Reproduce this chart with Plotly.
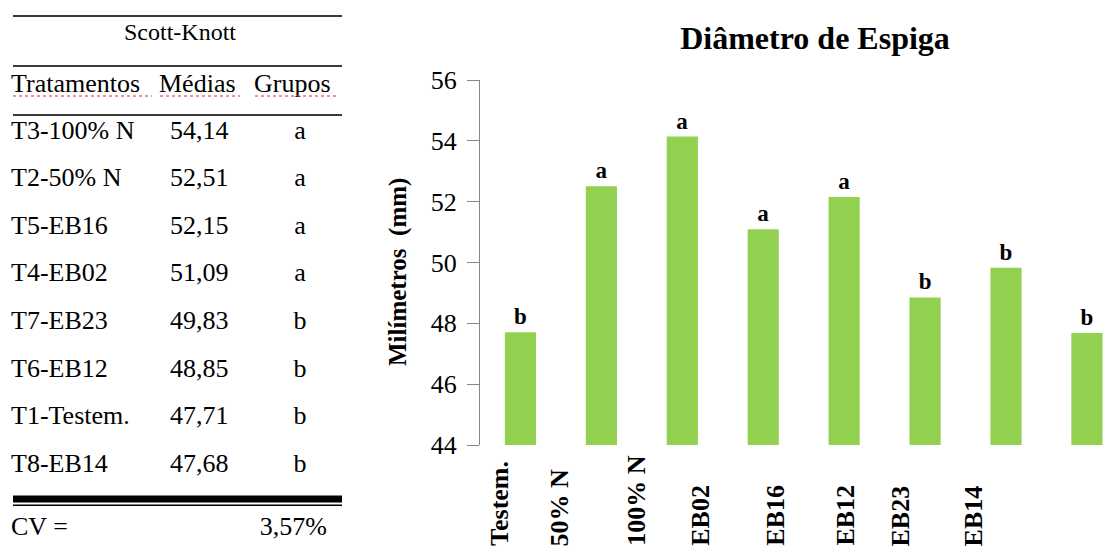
import plotly.graph_objects as go

W, H = 1112, 556
FONT = "Liberation Serif"
REG_FONT = "Times"

# ---------------- chart data ----------------
categories = ["Testem.", "50% N", "100% N", "EB02", "EB16", "EB12", "EB23", "EB14"]
means = [47.71, 52.51, 54.14, 51.09, 52.15, 48.85, 49.83, 47.68]
groups = ["b", "a", "a", "a", "a", "b", "b", "b"]
y_ticks = [44, 46, 48, 50, 52, 54, 56]

# ---------------- table data ----------------
table_title = "Scott-Knott"
table_headers = ["Tratamentos", "Médias", "Grupos"]
table_treatments = ["T3-100% N", "T2-50% N", "T5-EB16", "T4-EB02",
                    "T7-EB23", "T6-EB12", "T1-Testem.", "T8-EB14"]
table_means = ["54,14", "52,51", "52,15", "51,09", "49,83", "48,85", "47,71", "47,68"]
table_groups = ["a", "a", "a", "a", "b", "b", "b", "b"]
cv_label = "CV ="
cv_value = "3,57%"

# ---------------- layout constants ----------------
label_xshift = [-21, -42, -46, -63, -69, -80, -105, -113]  # category label offsets (px)
row_y0, row_step = 132, 47.6
col_treat_x, col_mean_x, col_group_x = 11, 170, 300
header_x = [11, 159, 254]
cv_right_x = 327
rule_x0, rule_x1 = 13, 342

BOLD = dict(family=FONT, color="black", weight=700)
REG = dict(family=REG_FONT, size=26, color="black", weight=400)

fig = go.Figure()

fig.add_trace(go.Bar(
    x=categories, y=means, text=groups, textposition="outside",
    textfont=dict(BOLD, size=23),
    marker=dict(color="#92D050", line=dict(width=0)),
    width=0.385, cliponaxis=False, showlegend=False,
    xaxis="x", yaxis="y",
))

row_y = [row_y0 + i * row_step for i in range(len(table_treatments))]

def text_trace(xs, ys, texts, pos, size=26):
    fig.add_trace(go.Scatter(
        x=xs, y=ys, mode="text", text=texts, textposition=pos,
        textfont=dict(REG, size=size),
        xaxis="x2", yaxis="y2", showlegend=False, hoverinfo="skip"))

text_trace([180], [34], [table_title], "middle center", size=24)
text_trace(header_x, [85] * 3, table_headers, "middle right")
text_trace([col_treat_x] * len(row_y), row_y, table_treatments, "middle right")
text_trace([col_mean_x] * len(row_y), row_y, table_means, "middle right")
text_trace([col_group_x] * len(row_y), row_y, table_groups, "middle center")
text_trace([col_treat_x], [528], [cv_label], "middle right")
text_trace([cv_right_x], [528], [cv_value], "middle left")

shapes = []
for yy in (16, 66, 115):
    shapes.append(dict(type="line", xref="x2", yref="y2", x0=rule_x0, x1=rule_x1,
                       y0=yy, y1=yy, line=dict(color="#3a3a3a", width=2)))
shapes.append(dict(type="line", xref="x2", yref="y2", x0=rule_x0, x1=rule_x1,
                   y0=499, y1=499, line=dict(color="black", width=7)))
shapes.append(dict(type="line", xref="x2", yref="y2", x0=rule_x0, x1=rule_x1,
                   y0=505.3, y1=505.3, line=dict(color="black", width=1.5)))
for xa, xb in ((13, 152), (160, 240), (255, 337)):
    shapes.append(dict(type="line", xref="x2", yref="y2", x0=xa, x1=xb,
                       y0=96, y1=96, line=dict(color="#e03030", width=1.2, dash="dot")))

annotations = []
for i, cat in enumerate(categories):
    annotations.append(dict(
        x=cat, xref="x", y=8 / H, yref="paper", text=cat,
        textangle=-90, xanchor="center", yanchor="bottom", showarrow=False,
        xshift=label_xshift[i], font=dict(BOLD, size=26)))
annotations.append(dict(
    x=398 / W, y=(H - 272) / H, xref="paper", yref="paper",
    text="Milímetros  (mm)", textangle=-90, showarrow=False,
    xanchor="center", yanchor="middle", font=dict(BOLD, size=25)))

fig.update_layout(
    template="none",
    width=W, height=H,
    margin=dict(l=0, r=0, t=0, b=0, pad=0),
    paper_bgcolor="white", plot_bgcolor="white",
    font=dict(family=FONT, color="black"),
    title=dict(text="Diâmetro de Espiga", x=815 / W, xanchor="center",
               y=(H - 38) / H, yanchor="middle", font=dict(BOLD, size=32)),
    xaxis=dict(domain=[480 / W, 1.0], range=[-0.5, 7.31], type="category",
               showticklabels=False, ticks="", showline=False, showgrid=False,
               zeroline=False, automargin=False),
    yaxis=dict(domain=[111 / H, 476 / H], range=[44, 56], tickvals=y_ticks,
               ticks="outside", ticklen=12, tickcolor="#868686",
               showline=True, linecolor="#868686", linewidth=1,
               showgrid=False, zeroline=False, automargin=False,
               ticklabelstandoff=5,
               tickfont=dict(REG, size=26)),
    xaxis2=dict(domain=[0, 360 / W], range=[0, 360], visible=False, automargin=False),
    yaxis2=dict(domain=[0, 1], range=[H, 0], visible=False, automargin=False),
    shapes=shapes, annotations=annotations,
    showlegend=False,
)

fig.write_html("out.html")
